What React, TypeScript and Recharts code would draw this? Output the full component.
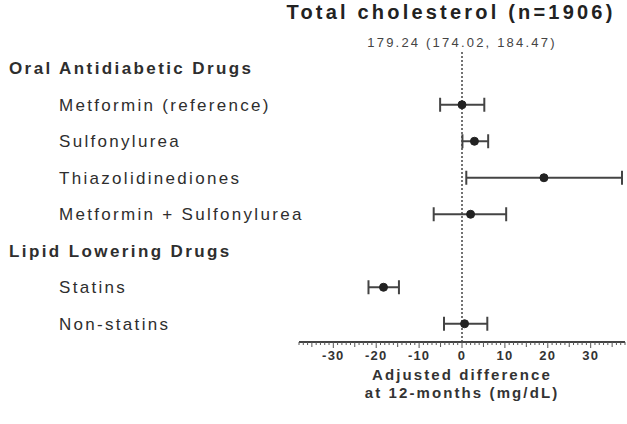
import { ComposedChart, Line, ErrorBar, XAxis, YAxis, ReferenceLine } from 'recharts';

const FONT = '"Liberation Sans", Arial, sans-serif';

const rowLabels = [
  'Oral Antidiabetic Drugs',
  'Metformin (reference)',
  'Sulfonylurea',
  'Thiazolidinediones',
  'Metformin + Sulfonylurea',
  'Lipid Lowering Drugs',
  'Statins',
  'Non-statins',
];
const headerRows = ['Oral Antidiabetic Drugs', 'Lipid Lowering Drugs'];
const estimates = [null, 0, 2.9, 19.1, 2.0, null, -18.3, 0.6];
const lowerCI = [null, -5.1, 0.1, 1.0, -6.6, null, -21.8, -4.2];
const upperCI = [null, 5.2, 6.1, 37.3, 10.3, null, -14.7, 5.9];

const majorTicks = [-30, -20, -10, 0, 10, 20, 30];
// small ticks every 1 unit along the axis
const allTicks = Array.from({ length: 77 }, (_, i) => i - 38);

const chartTitle = 'Total cholesterol (n=1906)';
const baselineText = '179.24 (174.02, 184.47)';
const xLabelLines = ['Adjusted difference', 'at 12-months (mg/dL)'];

const data = rowLabels.map((name, i) => ({
  name,
  estimate: estimates[i],
  err: estimates[i] == null ? null : [estimates[i] - lowerCI[i], upperCI[i] - estimates[i]],
}));

function RowTick({ y, payload }: any) {
  const isHeader = headerRows.includes(payload.value);
  return (
    <text
      x={isHeader ? 9 : 59}
      y={y}
      dy={6}
      textAnchor="start"
      fill="#2e2e2e"
      style={{ fontFamily: FONT, fontSize: 17, fontWeight: isHeader ? 700 : 400, letterSpacing: isHeader ? 2.4 : 2.3 }}
    >
      {payload.value}
    </text>
  );
}

function AxisTick({ x, y, payload }: any) {
  const v = payload.value;
  const len = v % 10 === 0 ? 6 : v % 5 === 0 ? 5 : 3;
  return (
    <g>
      <line x1={x} x2={x} y1={y} y2={y + len} stroke="#555" strokeWidth={1} />
      {majorTicks.includes(v) && (
        <text
          x={x}
          y={y + 18}
          textAnchor="middle"
          fill="#333"
          style={{ fontFamily: FONT, fontSize: 13, fontWeight: 700, letterSpacing: 1.2 }}
        >
          {String(v)}
        </text>
      )}
    </g>
  );
}

const renderXLabel = (props: any) => {
  const { viewBox } = props;
  const cx = viewBox.x + viewBox.width / 2;
  return (
    <text textAnchor="middle" fill="#333" style={{ fontFamily: FONT, fontSize: 15, fontWeight: 700, letterSpacing: 2.1 }}>
      <tspan x={cx} y={viewBox.y + 38}>{xLabelLines[0]}</tspan>
      <tspan x={cx} y={viewBox.y + 56}>{xLabelLines[1]}</tspan>
    </text>
  );
};

const renderBaseline = (props: any) => {
  const { viewBox } = props;
  return (
    <text
      x={viewBox.x}
      y={viewBox.y - 3}
      textAnchor="middle"
      fill="#444"
      style={{ fontFamily: FONT, fontSize: 13, letterSpacing: 2.2 }}
    >
      {baselineText}
    </text>
  );
};

export default function App() {
  return (
    <div style={{ position: 'absolute', left: 0, top: 0, width: 627, height: 424, background: '#fff' }}>
      <ComposedChart
        width={627}
        height={424}
        data={data}
        layout="vertical"
        margin={{ top: 50, right: 2, bottom: 0, left: 0 }}
      >
        <XAxis
          type="number"
          dataKey="estimate"
          domain={[-38, 38]}
          ticks={allTicks}
          interval={0}
          allowDataOverflow
          height={82}
          tickSize={0}
          tickMargin={0}
          tickLine={false}
          axisLine={{ stroke: '#444', strokeWidth: 2 }}
          tick={<AxisTick />}
          label={renderXLabel}
        />
        <YAxis
          type="category"
          dataKey="name"
          scale="band"
          width={299}
          axisLine={false}
          tickLine={false}
          interval={0}
          tick={<RowTick />}
        />
        <ReferenceLine x={0} stroke="#444" strokeWidth={1.5} strokeDasharray="2 2" label={renderBaseline} />
        <Line
          dataKey="estimate"
          stroke="none"
          isAnimationActive={false}
          dot={{ r: 4, fill: '#222', stroke: '#222', strokeWidth: 1 }}
          activeDot={false}
        >
          <ErrorBar dataKey="err" direction="x" width={7} stroke="#444" strokeWidth={2} isAnimationActive={false} />
        </Line>
      </ComposedChart>
      <svg width={627} height={424} style={{ position: 'absolute', left: 0, top: 0, pointerEvents: 'none' }}>
        <text
          x={451}
          y={19}
          textAnchor="middle"
          fill="#222"
          style={{ fontFamily: FONT, fontSize: 20, fontWeight: 700, letterSpacing: 3.2 }}
        >
          {chartTitle}
        </text>
      </svg>
    </div>
  );
}
